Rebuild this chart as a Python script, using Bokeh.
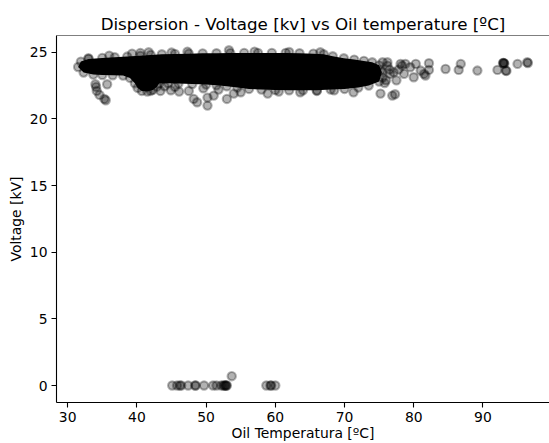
from bokeh.plotting import figure
from bokeh.models import FixedTicker, Range1d, Span
from bokeh.embed import file_html
from bokeh.resources import INLINE

# ---- data ----
title_text = "Dispersion - Voltage [kv] vs Oil temperature [ºC]"
x_label = "Oil Temperatura [ºC]"
y_label = "Voltage [kV]"
x_ticks = [30, 40, 50, 60, 70, 80, 90]
y_ticks = [0, 5, 10, 15, 20, 25]

# outline of the saturated (fully overlapped) dense region of the scatter
core_temp = [31.5, 31.9, 33.0, 35.0, 36.8, 38.6, 40.5, 42.0, 43.6, 45.5, 47.5, 49.5, 51.5, 53.5,
             55.5, 57.5, 59.5, 61.5, 63.5, 65.5, 67.0, 68.3, 69.9, 71.4, 72.8, 74.0, 75.0,
             75.4, 75.0,
             73.5, 72.0, 70.0, 68.0, 66.0, 64.0, 62.0, 60.0, 58.0, 56.2, 54.5, 53.0, 51.5, 50.0,
             48.0, 46.0, 44.5, 43.2, 42.9, 42.3, 41.5, 40.7, 40.1, 39.7, 39.0, 38.0, 36.5, 35.0,
             33.7, 32.3]
core_volt = [23.9, 24.3, 24.5, 24.58, 24.63, 24.68, 24.74, 24.8, 24.85, 24.88, 24.9, 24.92, 24.93, 24.94,
             24.95, 24.95, 24.95, 24.95, 24.93, 24.9, 24.85, 24.7, 24.55, 24.45, 24.35, 24.25, 24.02,
             23.5, 22.8,
             22.5, 22.35, 22.25, 22.2, 22.15, 22.15, 22.15, 22.17, 22.2, 22.25, 22.35, 22.45, 22.52, 22.58,
             22.62, 22.66, 22.68, 22.65, 22.42, 22.18, 22.06, 22.1, 22.33, 22.68, 23.08, 23.25, 23.28, 23.3,
             23.33, 23.48]

# individually visible points around the dense region
pt_temp = [34.0, 35.7, 34.2, 34.1, 34.6, 35.3, 35.5,
           42.0, 43.4, 44.9, 46.1, 47.5, 48.2, 48.7, 50.2, 50.2, 51.1, 53.0, 54.0, 49.6, 51.8, 45.5, 44.0,
           55.0, 58.9, 63.6, 71.3, 60.5, 66.0, 68.5,
           39.3, 40.5, 41.7, 47.3, 53.3, 66.5, 62.0, 57.0, 45.0, 36.0, 33.0,
           75.5, 76.2, 78.3, 77.1, 76.2, 78.1, 79.5, 81.0, 81.7, 78.6, 76.6, 75.2, 80.0, 76.0, 75.5,
           77.5, 76.5, 77.8, 75.8,
           78.8, 80.3, 82.2, 82.2, 81.5, 84.6, 86.8, 86.5, 89.2, 92.1, 93.0, 93.0, 93.1, 92.9, 93.3,
           93.4, 95.0, 96.4, 96.5,
           75.2, 76.9, 77.3]
pt_volt = [22.6, 22.6, 22.1, 22.4, 21.8, 21.5, 21.4,
           22.1, 22.1, 22.15, 22.05, 22.1, 21.5, 21.25, 21.0, 21.6, 21.75, 21.5, 21.9, 22.3, 22.2, 22.4, 22.45,
           22.0, 21.9, 22.0, 22.0, 22.05, 22.1, 22.15,
           24.9, 24.95, 25.0, 25.05, 25.15, 25.0, 25.02, 25.05, 24.98, 24.75, 24.55,
           24.25, 24.0, 24.0, 23.5, 24.25, 24.13, 23.88, 23.63, 23.25, 23.38, 23.38, 23.63, 23.13, 22.9, 23.1,
           22.9, 23.7, 23.7, 22.7,
           24.13, 24.13, 24.18, 23.68, 23.38, 23.75, 24.13, 23.68, 23.63, 23.68, 24.18, 24.2, 24.15, 24.2, 23.63,
           23.6, 24.13, 24.25, 24.2,
           21.9, 21.75, 21.85]

# points recorded with (almost) zero voltage
zero_temp = [45.1, 45.8, 46.2, 46.4, 47.4, 48.4, 48.5, 49.7, 51.0, 51.5, 52.2, 52.5, 52.7, 52.8,
             52.9, 53.0, 58.7, 59.3, 59.4, 60.0, 53.7]
zero_volt = [0, 0, 0, 0, 0, 0, 0, 0, 0, 0, 0, 0, 0, 0,
             0, 0, 0, 0, 0, 0, 0.7]

FONT = "DejaVu Sans"

p = figure(width=549, height=443, output_backend="svg", toolbar_location=None,
           x_range=Range1d(28.38, 99.62), y_range=Range1d(-1.275, 26.26),
           min_border_left=56, min_border_right=0, min_border_top=35, min_border_bottom=41)
p.outline_line_color = None
p.grid.visible = False
p.background_fill_color = "white"
p.border_fill_color = "white"

p.title.text = title_text
p.title.align = "center"
p.title.text_font = FONT
p.title.text_font_size = "16.7px"
p.title.text_font_style = "normal"
p.title.text_color = "black"
p.title.standoff = 4

for ax, lab, ticks in ((p.xaxis[0], x_label, x_ticks), (p.yaxis[0], y_label, y_ticks)):
    ax.ticker = FixedTicker(ticks=ticks)
    ax.axis_label = lab
    ax.axis_label_text_font = FONT
    ax.axis_label_text_font_size = "13.9px"
    ax.axis_label_text_font_style = "normal"
    ax.axis_label_text_color = "black"
    ax.major_label_text_font = FONT
    ax.major_label_text_font_size = "13.9px"
    ax.major_label_text_color = "black"
    ax.axis_line_width = 1.1
    ax.axis_line_color = "black"
    ax.major_tick_line_width = 1.1
    ax.major_tick_line_color = "black"
    ax.major_tick_out = 5
    ax.major_tick_in = 0
    ax.minor_tick_line_color = None
    ax.major_label_standoff = 4
p.xaxis[0].axis_label_standoff = 0
p.yaxis[0].axis_label_standoff = 3

p.add_layout(Span(location=26.26, dimension="width", line_color="black", line_width=1.1))

p.patch(core_temp, core_volt, fill_color="black", fill_alpha=1.0, line_color=None)
p.scatter(core_temp, core_volt, size=8.3, line_width=2.1, color="black", alpha=0.3)
p.scatter(pt_temp, pt_volt, size=8.3, line_width=2.1, color="black", alpha=0.3)
p.scatter(zero_temp, zero_volt, size=8.3, line_width=2.1, color="black", alpha=0.3)

open("out.html", "w").write(file_html(p, INLINE))
